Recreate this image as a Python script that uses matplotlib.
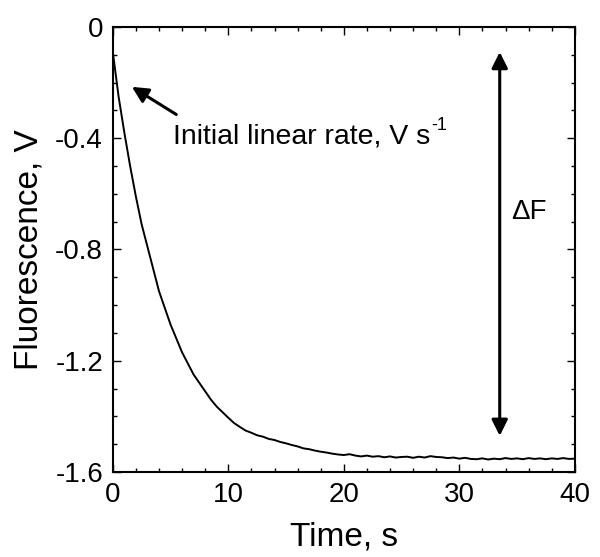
import matplotlib
matplotlib.use("Agg")
import matplotlib.pyplot as plt
from matplotlib.ticker import MultipleLocator

plt.rcParams["font.family"] = ["Liberation Sans", "DejaVu Sans"]

# fluorescence trace (time in s, signal in V)
time_s = [0, 0.25, 0.5, 1, 1.5, 2, 2.5, 3, 3.5, 4, 4.5, 5, 5.5, 6, 6.5, 7,
          7.5, 8, 8.5, 9, 9.5, 10, 10.5, 11, 11.5, 12, 12.5, 13, 13.5, 14,
          14.5, 15, 15.5, 16, 16.5, 17, 17.5, 18, 18.5, 19, 19.5,
          20, 20.5, 21, 21.5, 22, 22.5, 23, 23.5, 24, 24.5, 25, 25.5, 26,
          26.5, 27, 27.5, 28, 28.5, 29, 29.5, 30, 30.5, 31, 31.5, 32, 32.5,
          33, 33.5, 34, 34.5, 35, 35.5, 36, 36.5, 37, 37.5, 38, 38.5, 39,
          39.5, 40]
fluor_v = [-0.09, -0.17, -0.25, -0.38, -0.50, -0.61, -0.71, -0.79, -0.87,
           -0.95, -1.01, -1.07, -1.12, -1.17, -1.21, -1.25, -1.28, -1.31,
           -1.34, -1.365, -1.385, -1.405, -1.424, -1.438, -1.451, -1.459,
           -1.468, -1.473, -1.481, -1.485, -1.492, -1.497, -1.503, -1.508,
           -1.515, -1.518, -1.523, -1.527, -1.530, -1.534, -1.537,
           -1.539, -1.536, -1.541, -1.544, -1.541, -1.545, -1.543, -1.547,
           -1.544, -1.548, -1.546, -1.545, -1.549, -1.545, -1.548, -1.543,
           -1.546, -1.547, -1.550, -1.548, -1.552, -1.549, -1.553, -1.554,
           -1.551, -1.555, -1.552, -1.554, -1.550, -1.553, -1.551, -1.554,
           -1.550, -1.553, -1.551, -1.554, -1.551, -1.553, -1.550, -1.553,
           -1.552]

y_ticks = [-1.6, -1.2, -0.8, -0.4, 0]
y_tick_labels = ["-1.6", "-1.2", "-0.8", "-0.4", "0"]

delta_f_top = -0.09
delta_f_bottom = -1.47
delta_f_time = 33.5

fig = plt.figure(figsize=(6.0, 5.57), dpi=100)
ax = fig.add_axes([0.188, 0.1526, 0.77, 0.799])

ax.plot(time_s, fluor_v, color="black", lw=1.4)

ax.set_xlim(0, 40)
ax.set_ylim(-1.6, 0)
ax.xaxis.set_major_locator(MultipleLocator(10))
ax.xaxis.set_minor_locator(MultipleLocator(2))
ax.set_yticks(y_ticks)
ax.set_yticklabels(y_tick_labels)
ax.yaxis.set_minor_locator(MultipleLocator(0.1))
ax.tick_params(which="both", direction="in", top=True, right=True,
               labelsize=20, width=1, pad=7)
ax.tick_params(which="major", length=6)
ax.tick_params(which="minor", length=3)
for sp in ax.spines.values():
    sp.set_linewidth(1.5)

ax.set_xlabel("Time, s", fontsize=24, labelpad=10)
ax.set_ylabel("Fluorescence, V", fontsize=24, labelpad=8)

ax.annotate("", xy=(1.45, -0.21), xytext=(5.7, -0.32),
            arrowprops=dict(arrowstyle="-|>", color="black", lw=2.2,
                            mutation_scale=24))
rate = ax.text(5.2, -0.395, "Initial linear rate, V s", fontsize=20.5,
               va="center", ha="left")
ax.annotate("-1", xy=(1.0, 0.62), xycoords=rate, xytext=(1, 0),
            textcoords="offset points", fontsize=13, va="bottom", ha="left")

ax.annotate("", xy=(delta_f_time, delta_f_top),
            xytext=(delta_f_time, delta_f_bottom),
            arrowprops=dict(arrowstyle="<|-|>", color="black", lw=2.2,
                            mutation_scale=24, shrinkA=0, shrinkB=0))
ax.text(34.5, -0.665, "ΔF", fontsize=20, va="center", ha="left")

fig.savefig("out.png", dpi=100)
